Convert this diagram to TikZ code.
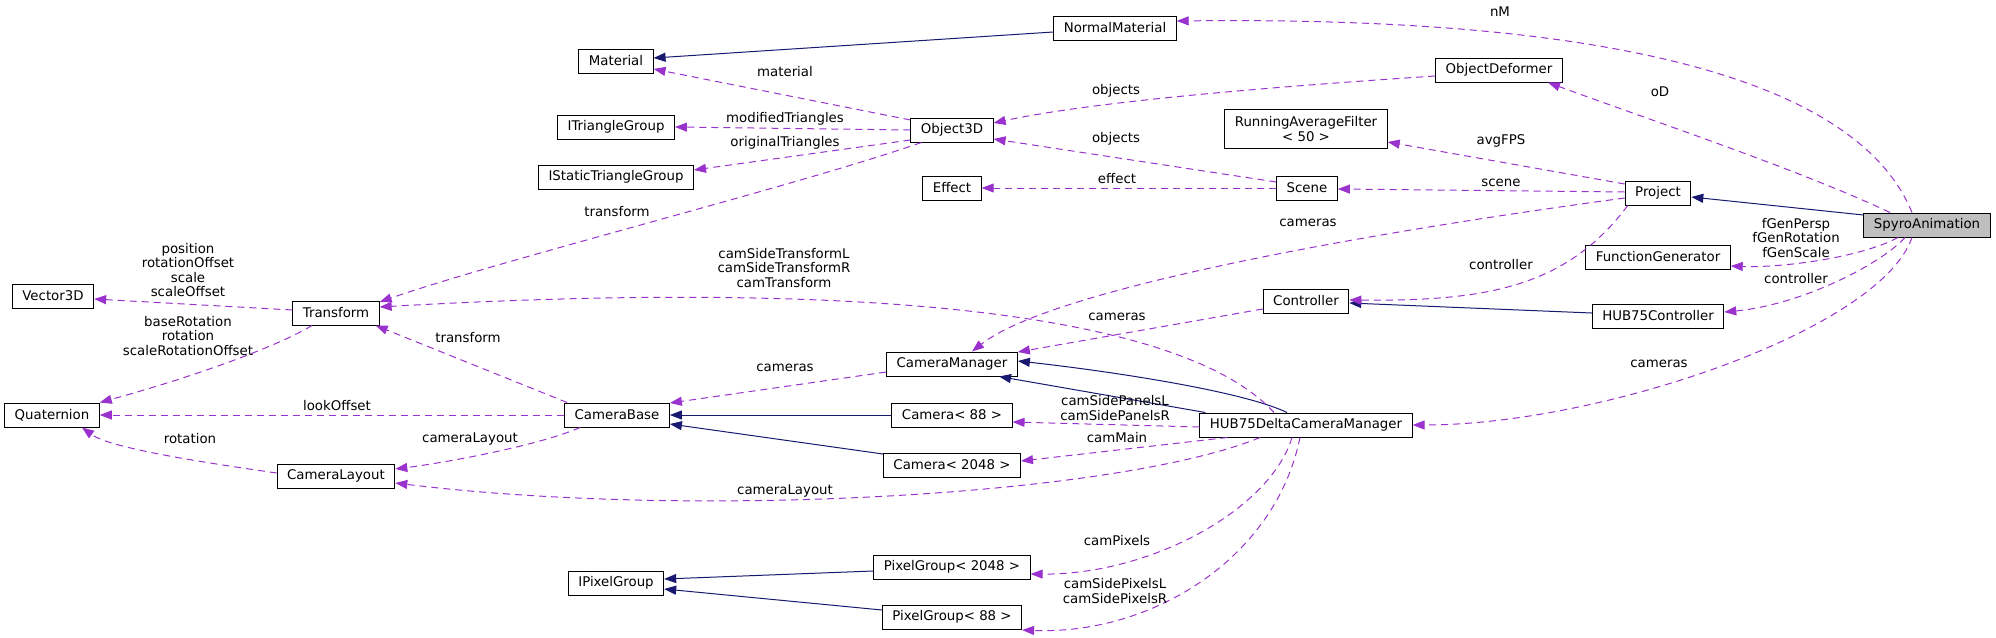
\documentclass[tikz,border=0pt]{standalone}
\usepackage{fontspec}
\setmainfont{DejaVu Sans}
\usetikzlibrary{arrows.meta, calc}
\definecolor{inhblue}{RGB}{25,25,112}
\definecolor{usepurple}{RGB}{154,50,205}
\definecolor{curgray}{RGB}{191,191,191}

\begin{document}
\begin{tikzpicture}[
  x=1pt, y=-1pt,
  box/.style={draw=black, line width=1pt, fill=white, minimum height=24pt,
              inner xsep=10pt, inner ysep=2pt, align=center,
              font=\fontsize{13.33}{15}\selectfont},
  cur/.style={box, fill=curgray},
  inh/.style={-{Triangle[length=12pt,width=9pt]}, line width=1pt, inhblue},
  use/.style={-{Triangle[length=12pt,width=9pt]}, line width=1pt, usepurple,
              dash pattern=on 7pt off 5pt},
  lbl/.style={font=\fontsize{13.33}{14.5}\selectfont, align=center, inner sep=0pt}
]
  \useasboundingbox (0,0) rectangle (1996,637);

  \node[cur] (spyro) at (1927,225) {SpyroAnimation};
  \node[box] (project) at (1658,193) {Project};
  \node[box] (funcgen) at (1658,257) {FunctionGenerator};
  \node[box] (hubctrl) at (1658,316) {HUB75Controller};
  \node[box] (objdef) at (1499,70) {ObjectDeformer};
  \node[box] (normat) at (1115,28) {NormalMaterial};
  \node[box, minimum height=39pt] (raf) at (1306,129) {RunningAverageFilter\\< 50 >};
  \node[box] (scene) at (1307,188) {Scene};
  \node[box] (controller) at (1306,301) {Controller};
  \node[box] (hubcam) at (1306,425) {HUB75DeltaCameraManager};
  \node[box] (object3d) at (952,130) {Object3D};
  \node[box] (effect) at (952,188) {Effect};
  \node[box] (cammgr) at (952,364) {CameraManager};
  \node[box] (cam88) at (952,415) {Camera< 88 >};
  \node[box] (cam2048) at (952,465) {Camera< 2048 >};
  \node[box] (pix2048) at (952,567) {PixelGroup< 2048 >};
  \node[box] (pix88) at (952,617) {PixelGroup< 88 >};
  \node[box] (material) at (616,61) {Material};
  \node[box] (itri) at (616,127) {ITriangleGroup};
  \node[box] (istri) at (616,177) {IStaticTriangleGroup};
  \node[box] (cambase) at (617,415) {CameraBase};
  \node[box] (ipix) at (616,583) {IPixelGroup};
  \node[box] (transform) at (336,313) {Transform};
  \node[box] (camlayout) at (336,476) {CameraLayout};
  \node[box] (vector3d) at (53,296) {Vector3D};
  \node[box] (quat) at (52,415) {Quaternion};

  \draw[inh] ($(normat.west)+(0,4)$) -- ($(material.east)+(0,-3)$);
  \draw[inh] ($(spyro.west)+(0,-10)$) -- ($(project.east)+(0,4)$);
  \draw[inh] ($(hubctrl.west)+(0,-3)$) -- ($(controller.east)+(0,2)$);
  \draw[inh] ($(hubcam.north)+(-19,0)$) .. controls (1240,390) and (1100,370) .. ($(cammgr.east)+(0,-3)$);
  \draw[inh] ($(hubcam.north west)+(6,0)$) -- ($(cammgr.south)+(47,0)$);
  \draw[inh] (cam88.west) -- (cambase.east);
  \draw[inh] ($(cam2048.west)+(0,-11)$) -- ($(cambase.east)+(0,9)$);
  \draw[inh] ($(pix2048.west)+(0,4)$) -- ($(ipix.east)+(0,-4)$);
  \draw[inh] ($(pix88.west)+(0,-7)$) -- ($(ipix.east)+(0,6)$);

  \draw[use] ($(spyro.north)+(-15,0)$) .. controls (1870,110) and (1700,15) .. ($(normat.east)+(0,-7)$);
  \draw[use] ($(spyro.north)+(-37,0)$) .. controls (1800,170) and (1650,120) .. ($(objdef.south)+(49,0)$);
  \draw[use] ($(objdef.west)+(0,6)$) .. controls (1300,85) and (1100,100) .. ($(object3d.east)+(0,-7)$);
  \draw[use] ($(object3d.west)+(0,-10)$) -- ($(material.east)+(0,8)$);
  \draw[use] (object3d.west) -- (itri.east);
  \draw[use] ($(object3d.west)+(0,10)$) -- ($(istri.east)+(0,-7)$);
  \draw[use] ($(object3d.south west)+(11,0)$) .. controls (800,185) and (500,260) .. ($(transform.east)+(0,-11)$);
  \draw[use] ($(scene.west)+(0,-6)$) -- ($(object3d.east)+(0,9)$);
  \draw[use] (scene.west) -- (effect.east);
  \draw[use] ($(project.west)+(0,-9)$) -- ($(raf.east)+(0,13)$);
  \draw[use] ($(project.west)+(0,-1)$) -- ($(scene.east)+(0,1)$);
  \draw[use] ($(project.west)+(0,5)$) .. controls (1350,235) and (1050,290) .. ($(cammgr.north)+(20,0)$);
  \draw[use] ($(project.south west)+(3,0)$) .. controls (1565,290) and (1480,301) .. ($(controller.east)+(0,-1)$);
  \draw[use] ($(spyro.south)+(-29,0)$) .. controls (1860,258) and (1780,268) .. ($(funcgen.east)+(0,9)$);
  \draw[use] ($(spyro.south)+(-22,0)$) .. controls (1880,265) and (1800,305) .. ($(hubctrl.east)+(0,-4)$);
  \draw[use] ($(spyro.south)+(-15,0)$) .. controls (1880,330) and (1600,425) .. (hubcam.east);
  \draw[use] ($(controller.west)+(0,8)$) -- ($(cammgr.east)+(0,-12)$);
  \draw[use] ($(hubcam.north)+(-32,0)$) .. controls (1180,310) and (850,280) .. ($(transform.east)+(0,-6)$);
  \draw[use] ($(hubcam.west)+(0,2)$) -- ($(cam88.east)+(0,7)$);
  \draw[use] ($(hubcam.south west)+(28,0)$) -- ($(cam2048.east)+(0,-4)$);
  \draw[use] ($(hubcam.south)+(-46,0)$) .. controls (1120,495) and (700,520) .. ($(camlayout.east)+(0,7)$);
  \draw[use] ($(hubcam.south)+(-14,0)$) .. controls (1270,510) and (1150,575) .. ($(pix2048.east)+(0,7)$);
  \draw[use] ($(hubcam.south)+(-6,0)$) .. controls (1275,560) and (1150,635) .. ($(pix88.east)+(0,13)$);
  \draw[use] ($(cammgr.west)+(0,8)$) -- ($(cambase.east)+(0,-12)$);
  \draw[use] ($(cambase.north west)+(3,0)$) -- ($(transform.south east)+(-4,0)$);
  \draw[use] (cambase.west) -- (quat.east);
  \draw[use] ($(cambase.south west)+(16,0)$) .. controls (540,445) and (450,462) .. ($(camlayout.east)+(0,-7)$);
  \draw[use] ($(camlayout.west)+(0,-3)$) .. controls (200,462) and (110,448) .. ($(quat.south)+(30,0)$);
  \draw[use] ($(transform.west)+(0,-3)$) -- ($(vector3d.east)+(0,3)$);
  \draw[use] ($(transform.south)+(-24,0)$) .. controls (280,345) and (200,375) .. (quat.north east);

  \node[lbl] (l-nm) at (1500,12) {nM};
  \node[lbl] (l-od) at (1660,92) {oD};
  \node[lbl] (l-obj1) at (1116,91) {objects};
  \node[lbl] (l-obj2) at (1116,139) {objects};
  \node[lbl] (l-mat) at (785,72) {material};
  \node[lbl] (l-mod) at (785,119) {modifiedTriangles};
  \node[lbl] (l-orig) at (785,143) {originalTriangles};
  \node[lbl] (l-eff) at (1117,179) {effect};
  \node[lbl] (l-avg) at (1501,141) {avgFPS};
  \node[lbl] (l-scene) at (1501,183) {scene};
  \node[lbl] (l-cam1) at (1308,223) {cameras};
  \node[lbl] (l-ctrl1) at (1501,265) {controller};
  \node[lbl] (l-fgen) at (1796,238) {fGenPersp\\fGenRotation\\fGenScale};
  \node[lbl] (l-ctrl2) at (1796,279) {controller};
  \node[lbl] (l-cam2) at (1659,364) {cameras};
  \node[lbl] (l-cam3) at (1117,317) {cameras};
  \node[lbl] (l-side) at (784,268) {camSideTransformL\\camSideTransformR\\camTransform};
  \node[lbl] (l-panels) at (1115,408) {camSidePanelsL\\camSidePanelsR};
  \node[lbl] (l-main) at (1117,438) {camMain};
  \node[lbl] (l-lay1) at (785,491) {cameraLayout};
  \node[lbl] (l-pix) at (1117,541) {camPixels};
  \node[lbl] (l-sidepix) at (1115,591) {camSidePixelsL\\camSidePixelsR};
  \node[lbl] (l-cam4) at (785,368) {cameras};
  \node[lbl] (l-tr1) at (617,212) {transform};
  \node[lbl] (l-tr2) at (468,338) {transform};
  \node[lbl] (l-look) at (337,406) {lookOffset};
  \node[lbl] (l-lay2) at (470,439) {cameraLayout};
  \node[lbl] (l-rot) at (190,439) {rotation};
  \node[lbl] (l-pos) at (188,270) {position\\rotationOffset\\scale\\scaleOffset};
  \node[lbl] (l-base) at (188,336) {baseRotation\\rotation\\scaleRotationOffset};

\end{tikzpicture}
\end{document}
